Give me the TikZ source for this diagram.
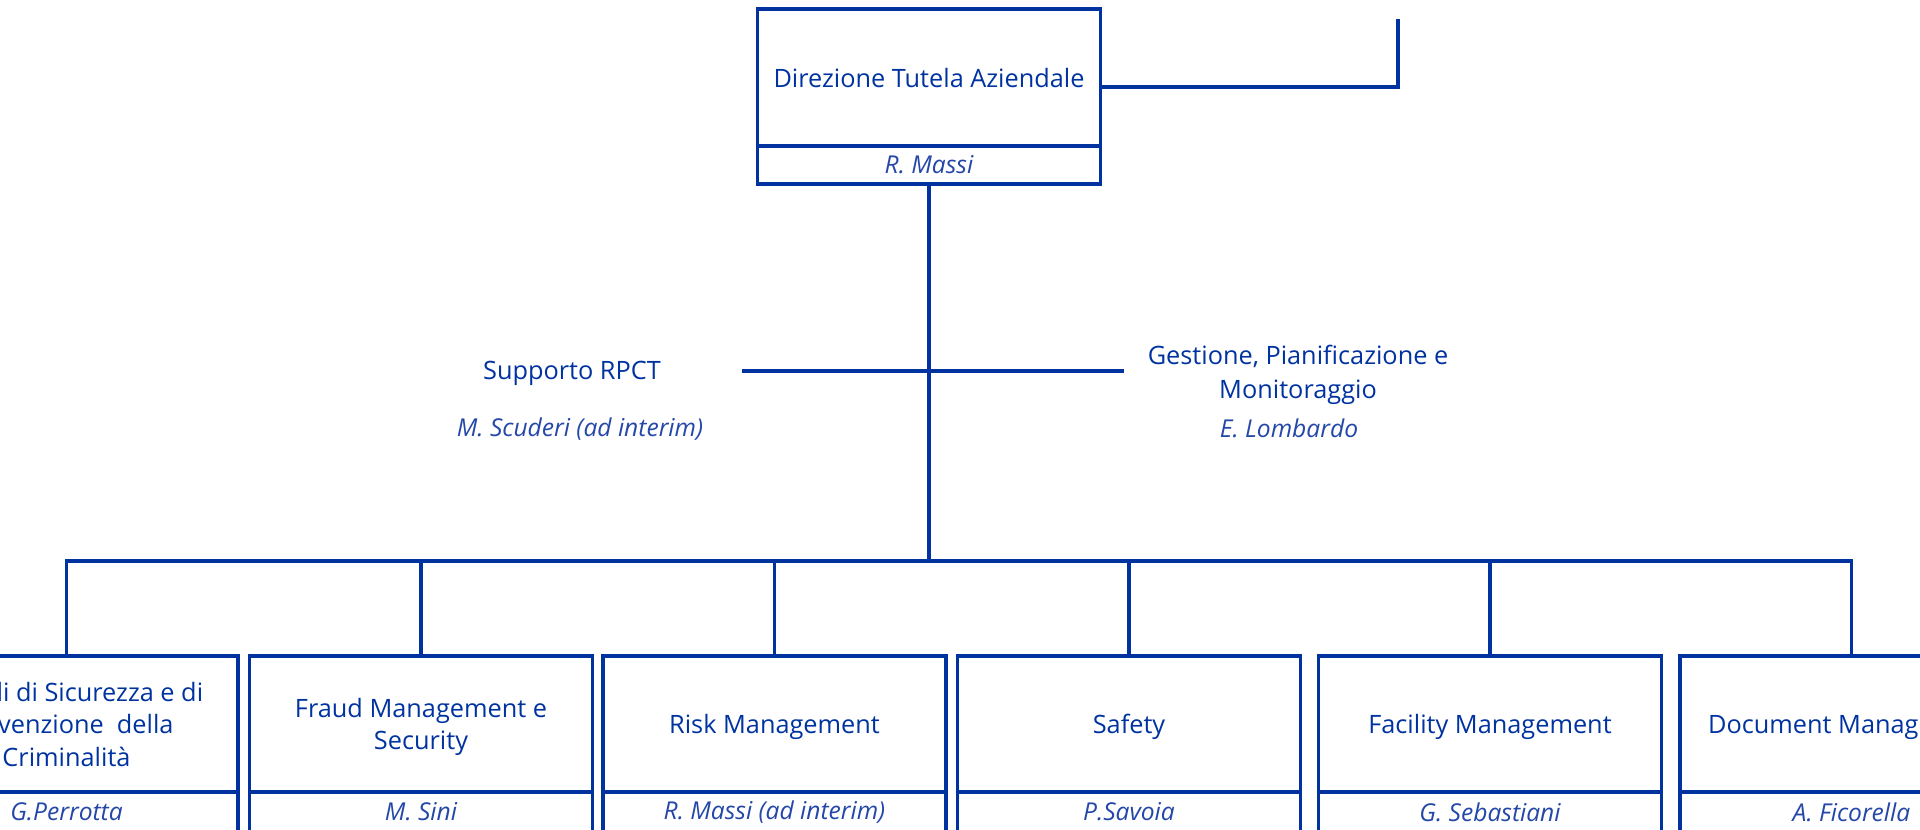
\documentclass[tikz,border=0pt]{standalone}
\usepackage{fontspec}
\setmainfont{Open Sans}
\usepackage{tikz}
\definecolor{tutela}{HTML}{0033A0}
\definecolor{tutelaname}{HTML}{2447A8}

\begin{document}
\begin{tikzpicture}[x=0.02cm, y=-0.02cm,
	every node/.style={text=tutela, font=\fontsize{14.4}{19}\selectfont},
	unit/.style={draw=tutela, line width=1.8pt, minimum width=6.86cm, minimum height=2.72cm, align=center, text depth=0pt},
	head/.style={draw=tutela, line width=1.8pt, minimum width=6.86cm, minimum height=0.8cm, text=tutelaname, font=\fontsize{14}{16}\selectfont\itshape},
	person/.style={text=tutelaname, font=\fontsize{14}{16}\selectfont\itshape},
	link/.style={draw=tutela, line width=1.8pt}]
	\useasboundingbox (0,0) rectangle (1920,830);
	\node [unit, minimum height=2.74cm] (dir) at (929, 77.5) {Direzione Tutela Aziendale};
	\node [head, minimum height=0.76cm] (dirname) at (929, 165) {R. Massi};
	\coordinate (corner) at (1398, 19);
	\draw [link] ([yshift=-0.19cm]dir.east) -| (corner);
	\coordinate (hub) at (929, 561);
	\draw [link] (dirname.south) -- (hub);
	\node (rpct) at (572, 373) {Supporto RPCT};
	\node [person] (rpctname) at (580, 429) {M. Scuderi (ad interim)};
	\node [align=center] (gpm) at (1298, 375) {Gestione, Pianificazione e\\Monitoraggio};
	\node [person] (gpmname) at (1289, 428) {E. Lombardo};
	\coordinate (sideL) at (742, 371);
	\coordinate (sideR) at (1124, 371);
	\draw [link] (sideL) -- (sideR);
	\node [unit, font=\fontsize{14.4}{18.5}\selectfont] (presidi) at (66.5, 724) {Presidi di Sicurezza e di\\Prevenzione~ della\\Criminalità};
	\node [head] (presidiname) at (66.5, 812) {G.Perrotta};
	\node [unit, font=\fontsize{14.4}{18.5}\selectfont] (fraud) at (421, 724) {Fraud Management e\\Security};
	\node [head] (fraudname) at (421, 812) {M. Sini};
	\node [unit] (risk) at (774.5, 724) {Risk Management};
	\node [head] (riskname) at (774.5, 812) {R. Massi (ad interim)};
	\node [unit] (safety) at (1129, 724) {Safety};
	\node [head] (safetyname) at (1129, 812) {P.Savoia};
	\node [unit] (facility) at (1490, 724) {Facility Management};
	\node [head] (facilityname) at (1490, 812) {G. Sebastiani};
	\node [unit] (document) at (1851.5, 724) {Document Management};
	\node [head] (documentname) at (1851.5, 812) {A. Ficorella};
	\draw [link] (presidi.north) -- (presidi.north |- hub) -- (document.north |- hub) -- (document.north);
	\draw [link, line width=2.6pt] (fraud.north |- hub) -- (hub);
	\draw [link] (fraud.north) -- (fraud.north |- hub);
	\draw [link] (risk.north) -- (risk.north |- hub);
	\draw [link] (safety.north) -- (safety.north |- hub);
	\draw [link] (facility.north) -- (facility.north |- hub);
\end{tikzpicture}
\end{document}
